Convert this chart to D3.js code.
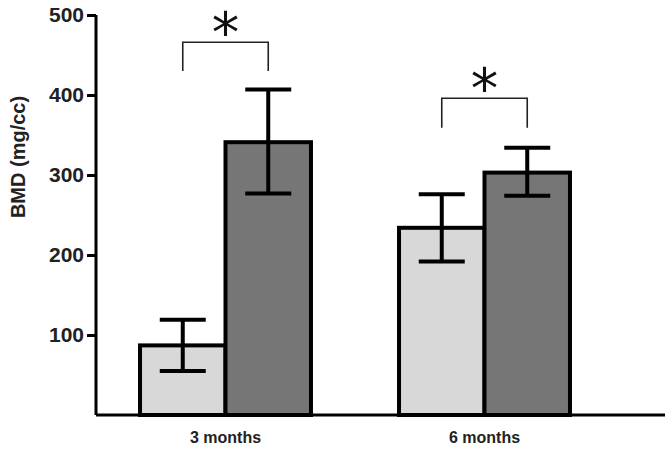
<!DOCTYPE html>
<html>
  <head>
    <meta charset="utf-8">
    <script src="https://d3js.org/d3.v7.min.js"></script>
    <style>
      body { margin: 0; background: #fff; }
      .chart text { font-family: "Liberation Sans", Arial, sans-serif; }
    </style>
  </head>
  <body>
    <div class="chart"></div>
    <script>
    // data
    var groups = ["3 months", "6 months"];
    var series = ["control", "treated"];
    var means = [[87, 341], [234, 303]];
    var errLow = [[55, 277], [192, 274]];
    var errHigh = [[119, 407], [276, 334]];
    var yTicks = [100, 200, 300, 400, 500];
    // significance brackets: [leg bottom, top] in data units
    var sigBrackets = [[430, 466], [359, 396]];

    var colors = ["#d8d8d8", "#767676"];

    var width = 672, height = 449;
    var margin = {top: 15, left: 96, bottom: 34};

    var svg = d3.select(".chart").append("svg")
      .attr("width", width).attr("height", height);

    var y = d3.scaleLinear().domain([0, 500]).range([height - margin.bottom, margin.top]);
    var x0 = d3.scaleBand().domain(groups).range([margin.left, 614]);
    var x1 = d3.scaleBand().domain(series).range([0, x0.bandwidth()]).paddingOuter(0.515);

    // bars
    var g = svg.selectAll(".grp").data(groups).enter().append("g")
      .attr("transform", function(d) { return "translate(" + x0(d) + ",0)"; });

    g.selectAll("rect")
      .data(function(d, i) { return series.map(function(s, j) { return {s: s, j: j, v: means[i][j], lo: errLow[i][j], hi: errHigh[i][j]}; }); })
      .enter().append("rect")
      .attr("x", function(d) { return x1(d.s); })
      .attr("width", x1.bandwidth())
      .attr("y", function(d) { return y(d.v); })
      .attr("height", function(d) { return y(0) - y(d.v); })
      .attr("fill", function(d) { return colors[d.j]; })
      .attr("stroke", "#000")
      .attr("stroke-width", 4);

    // error bars
    var eb = g.selectAll(".err")
      .data(function(d, i) { return series.map(function(s, j) { return {s: s, lo: errLow[i][j], hi: errHigh[i][j]}; }); })
      .enter().append("g")
      .attr("transform", function(d) { return "translate(" + (x1(d.s) + x1.bandwidth() / 2) + ",0)"; })
      .attr("stroke", "#000").attr("stroke-width", 4);
    eb.append("line").attr("x1", 0).attr("x2", 0)
      .attr("y1", function(d) { return y(d.lo); }).attr("y2", function(d) { return y(d.hi); });
    eb.append("line").attr("x1", -23).attr("x2", 23)
      .attr("y1", function(d) { return y(d.lo); }).attr("y2", function(d) { return y(d.lo); });
    eb.append("line").attr("x1", -23).attr("x2", 23)
      .attr("y1", function(d) { return y(d.hi); }).attr("y2", function(d) { return y(d.hi); });

    // significance brackets + asterisks
    g.each(function(d, i) {
      var gg = d3.select(this);
      var xa = x1(series[0]) + x1.bandwidth() / 2, xb = x1(series[1]) + x1.bandwidth() / 2;
      var b = sigBrackets[i];
      gg.append("path")
        .attr("d", "M" + xa + "," + y(b[0]) + "V" + y(b[1]) + "H" + xb + "V" + y(b[0]))
        .attr("fill", "none").attr("stroke", "#222").attr("stroke-width", 1.6);
      gg.append("text")
        .attr("x", (xa + xb) / 2)
        .attr("y", y(b[1]) + 9.5)
        .attr("text-anchor", "middle")
        .attr("font-size", 55)
        .style("font-family", "'DejaVu Sans', sans-serif")
        .attr("fill", "#111")
        .text("*");
    });

    // x axis line
    svg.append("line")
      .attr("x1", margin.left).attr("x2", 665)
      .attr("y1", y(0)).attr("y2", y(0))
      .attr("stroke", "#000").attr("stroke-width", 3);

    svg.selectAll(".xlab").data(groups).enter().append("text")
      .attr("x", function(d) { return x0(d) + x0.bandwidth() / 2; })
      .attr("y", 443)
      .attr("text-anchor", "middle")
      .attr("font-size", 16).attr("font-weight", "bold").attr("fill", "#222")
      .text(function(d) { return d; });

    // y axis
    var yAxis = svg.append("g")
      .attr("transform", "translate(" + margin.left + ",0)")
      .call(d3.axisLeft(y).tickValues(yTicks).tickSize(9).tickPadding(3));
    yAxis.select(".domain").attr("stroke-width", 3).attr("d", "M0," + y(0) + "V" + y(500));
    yAxis.selectAll(".tick line").attr("stroke-width", 3);
    yAxis.selectAll(".tick text")
      .attr("font-size", 21).attr("font-weight", "bold").attr("fill", "#222")
      .style("font-family", "'Liberation Sans', Arial, sans-serif");

    svg.append("text")
      .attr("transform", "translate(25," + 157 + ") rotate(-90)")
      .attr("text-anchor", "middle")
      .attr("font-size", 20).attr("font-weight", "bold").attr("fill", "#222")
      .text("BMD (mg/cc)");
    </script>
  </body>
</html>
